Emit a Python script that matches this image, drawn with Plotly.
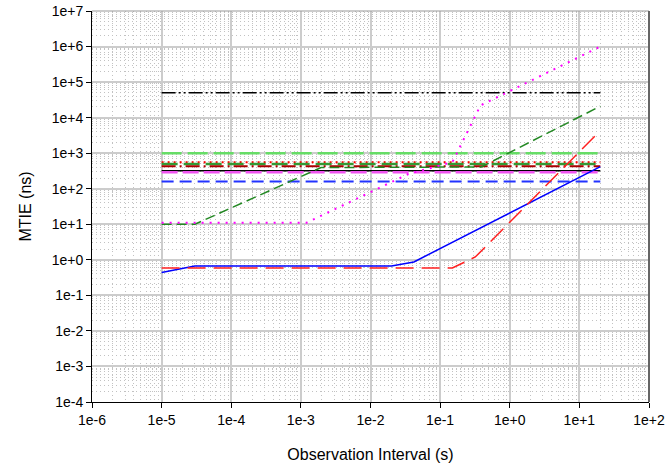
import plotly.graph_objects as go

# Observation interval span of the flat MTIE limits (s)
tau_flat = [1e-5, 20]

# Flat MTIE limits (ns)
lim_50k = [5e4, 5e4]
lim_1000 = [1000, 1000]
lim_560 = [560, 560]
lim_500 = [500, 500]
lim_430 = [430, 430]
lim_320 = [320, 320]
lim_290 = [290, 290]
lim_160 = [160, 160]

# MTIE curves (tau in s, MTIE in ns)
tau_blue = [1e-5, 3e-5, 0.02, 0.042, 20]
mtie_blue = [0.44, 0.67, 0.67, 0.87, 420]

tau_red = [1e-5, 0.15, 0.32, 20]
mtie_red = [0.59, 0.59, 1.2, 4300]

tau_green = [1e-5, 3e-5, 1.95e-3, 0.39, 20]
mtie_green = [10, 10, 395, 410, 2.1e4]

tau_mag = [1e-5, 1.2e-3, 0.035, 0.15, 0.38, 20]
mtie_mag = [11, 11, 260, 560, 2.2e4, 1e6]

# Axis ticks
x_tick_vals = [1e-6, 1e-5, 1e-4, 1e-3, 1e-2, 1e-1, 1e0, 1e1, 1e2]
x_tick_text = ["1e-6", "1e-5", "1e-4", "1e-3", "1e-2", "1e-1", "1e+0", "1e+1", "1e+2"]
y_tick_vals = [1e-4, 1e-3, 1e-2, 1e-1, 1e0, 1e1, 1e2, 1e3, 1e4, 1e5, 1e6, 1e7]
y_tick_text = ["1e-4", "1e-3", "1e-2", "1e-1", "1e+0", "1e+1", "1e+2", "1e+3",
               "1e+4", "1e+5", "1e+6", "1e+7"]


def minor_vals(lo, hi):
    vals = []
    for e in range(lo, hi):
        for m in range(2, 10):
            vals.append(m * 10.0 ** e)
    return vals


fig = go.Figure()

flat = [
    (lim_50k, "black", 1.5, "14px,3px,2px,3px,2px,3px"),
    (lim_1000, "#66dd66", 2.5, "20px,6px"),
    (lim_560, "#ff0000", 2, "2px,4px"),
    (lim_500, "#339933", 2.5, "16px,6px"),
    (lim_430, "#aa0000", 2, "14px,4px,2px,4px"),
    (lim_320, "black", 1.5, "solid"),
    (lim_290, "#ee55ee", 2.5, "16px,5px"),
    (lim_160, "#2233ff", 2, "12px,6px"),
]
for vals, color, w, dash in flat:
    fig.add_trace(go.Scatter(x=tau_flat, y=vals, mode="lines",
                             line=dict(color=color, width=w, dash=dash),
                             showlegend=False, hoverinfo="skip"))

fig.add_trace(go.Scatter(x=tau_green, y=mtie_green, mode="lines",
                         line=dict(color="#228822", width=1.5, dash="10px,5px"),
                         showlegend=False))
fig.add_trace(go.Scatter(x=tau_blue, y=mtie_blue, mode="lines",
                         line=dict(color="#0000ff", width=1.5),
                         showlegend=False))
fig.add_trace(go.Scatter(x=tau_red, y=mtie_red, mode="lines",
                         line=dict(color="#ff2020", width=1.5, dash="18px,8px"),
                         showlegend=False))
fig.add_trace(go.Scatter(x=tau_mag, y=mtie_mag, mode="lines",
                         line=dict(color="#ff00ff", width=2, dash="2px,6px"),
                         showlegend=False))

font = "Liberation Sans, Arial, sans-serif"

grid_major = dict(showgrid=True, gridcolor="#cccccc", gridwidth=1.5)
grid_minor = dict(showgrid=True, gridcolor="#c2c2c2", griddash="1px,3px",
                  gridwidth=1, ticks="")

fig.update_xaxes(
    type="log", range=[-6, 2],
    tickvals=x_tick_vals, ticktext=x_tick_text,
    ticks="outside", ticklen=5, tickcolor="black",
    showline=True, linecolor="black", linewidth=1,
    minor=dict(tickvals=minor_vals(-6, 2), **grid_minor),
    tickfont=dict(family=font, size=14, color="black"),
    title=dict(text="Observation Interval (s)", standoff=22,
               font=dict(family=font, size=16, color="black")),
    zeroline=False, **grid_major,
)
fig.update_yaxes(
    type="log", range=[-4, 7],
    tickvals=y_tick_vals, ticktext=y_tick_text,
    ticks="outside", ticklen=5, tickcolor="black",
    showline=True, linecolor="black", linewidth=1,
    minor=dict(tickvals=minor_vals(-4, 7), **grid_minor),
    tickfont=dict(family=font, size=14, color="black"),
    title=dict(text="MTIE (ns)", standoff=16,
               font=dict(family=font, size=16, color="black")),
    zeroline=False, **grid_major,
)

# Frame: top and right edges
fig.add_shape(type="line", xref="paper", yref="paper", x0=0, x1=1, y0=1, y1=1,
              line=dict(color="#999999", width=1))
fig.add_shape(type="line", xref="paper", yref="paper", x0=1, x1=1, y0=0, y1=1,
              line=dict(color="#666666", width=2))

fig.update_layout(
    width=671, height=467,
    margin=dict(l=92, r=22, t=11, b=65, autoexpand=False),
    plot_bgcolor="white", paper_bgcolor="white",
    showlegend=False,
)

fig.write_html("out.html")
